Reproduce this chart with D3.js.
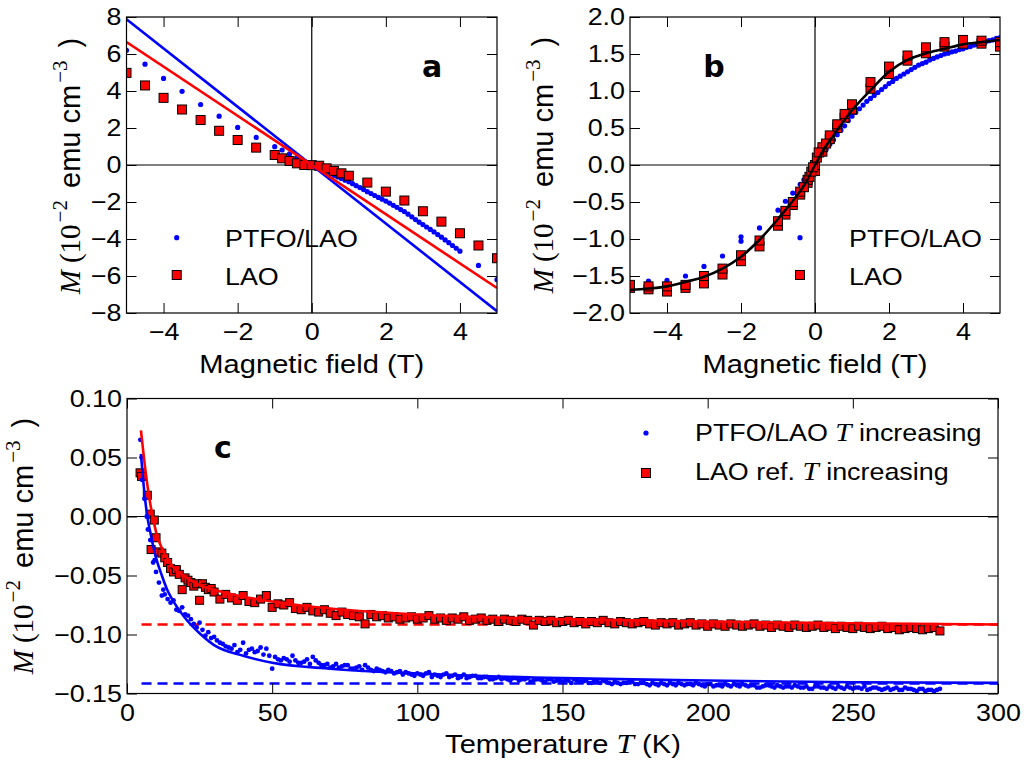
<!DOCTYPE html>
<html>
<head>
<meta charset="utf-8">
<script src="https://cdn.jsdelivr.net/npm/d3@7"></script>
<style>
  body { margin: 0; background: #fff; }
</style>
</head>
<body>
<svg id="chart" width="1029" height="767"></svg>
<script>
// ---------- data ----------
// panel a : raw M(H)
const aLaoField = [-5,-4.5,-4,-3.5,-3,-2.5,-2,-1.5,-1,-0.8,-0.6,-0.4,-0.2,0,0.2,0.4,0.6,0.8,1,1.5,2,2.5,3,3.5,4,4.5,5];
const aLaoM = [4.98,4.3,3.63,3.0,2.43,1.85,1.35,0.94,0.54,0.36,0.22,0.09,0.0,-0.01,-0.04,-0.18,-0.32,-0.45,-0.58,-0.95,-1.44,-1.92,-2.5,-3.06,-3.69,-4.35,-5.04];
const aPtfoField = [-5,-4.5,-4,-3.5,-3,-2.5,-2,-1.5,-1,-0.8,-0.6,-0.4,-0.2,
  0,0.1,0.2,0.3,0.4,0.5,0.6,0.7,0.8,0.9,1,1.1,1.2,1.3,1.4,1.5,1.6,1.7,1.8,1.9,2,
  2.1,2.2,2.3,2.4,2.5,2.6,2.7,2.8,2.9,3,3.1,3.2,3.3,3.4,3.5,3.6,3.7,3.8,3.9,4,4.5,5];
const aPtfoM = [6.2,5.45,4.68,3.98,3.27,2.64,2.03,1.49,0.99,0.81,0.6,0.4,0.2,
  -0.02,-0.1,-0.2,-0.29,-0.38,-0.47,-0.56,-0.65,-0.73,-0.82,-0.9,-1.01,-1.12,-1.22,-1.33,-1.44,-1.54,-1.65,-1.75,-1.85,-1.95,
  -2.06,-2.18,-2.29,-2.41,-2.52,-2.66,-2.8,-2.95,-3.09,-3.22,-3.35,-3.48,-3.62,-3.76,-3.9,-4.05,-4.2,-4.35,-4.5,-4.66,-5.43,-6.2];
const aFitField = [-5, 5];
const aFitPtfo = [7.88, -7.9];
const aFitLao = [6.65, -6.65];

// panel b : background-corrected M(H)
const bLaoField = [-5,-4.5,-4,-3.5,-3,-2.5,-2,-1.5,-1,-0.8,-0.6,-0.4,-0.2,0,0.2,0.4,0.6,0.8,1,1.5,2,2.5,3,3.5,4,4.5,5,
  -5,-4.5,-4,-3.5,-3,-2.5,-2,-1.5,-1,-0.8,-0.6,-0.4,-0.2,0,0.2,0.4,0.6,0.8,1,1.5,2,2.5,3,3.5,4,4.5,5,
  -0.3,-0.15,-0.1,-0.05,0.05,0.1,0.3];
const bLaoM = [-1.66,-1.68,-1.71,-1.66,-1.6,-1.48,-1.3,-1.1,-0.82,-0.67,-0.54,-0.4,-0.24,-0.08,0.18,0.35,0.5,0.64,0.75,1.03,1.23,1.41,1.51,1.6,1.64,1.64,1.6,
  -1.62,-1.64,-1.64,-1.62,-1.5,-1.4,-1.22,-1.02,-0.76,-0.62,-0.5,-0.36,-0.2,0.0,0.24,0.4,0.55,0.69,0.82,1.12,1.33,1.48,1.59,1.66,1.69,1.68,1.66,
  -0.3,-0.16,-0.09,-0.03,0.1,0.17,0.29];
const bPtfoField = [-5,-4.5,-4,-3.5,-3,-2.5,-2,-2,-1.5,-1,-0.8,-0.6,-0.4,-0.3,-0.2,-0.1,
  0,0.1,0.2,0.3,0.4,0.5,0.6,0.7,0.8,0.9,1,1.1,1.2,1.3,1.4,1.5,1.6,1.7,1.8,1.9,2,
  2.1,2.2,2.3,2.4,2.5,2.6,2.7,2.8,2.9,3,3.1,3.2,3.3,3.4,3.5,3.6,3.7,3.8,3.9,4,
  4.1,4.2,4.3,4.4,4.5,4.6,4.7,4.8,4.9,5];
const bPtfoM = [-1.69,-1.57,-1.56,-1.5,-1.37,-1.23,-1.03,-0.97,-0.85,-0.61,-0.49,-0.38,-0.26,-0.2,-0.13,-0.06,
  0.0,0.07,0.14,0.21,0.28,0.34,0.41,0.47,0.53,0.6,0.66,0.71,0.76,0.81,0.86,0.9,0.94,0.98,1.02,1.06,1.1,
  1.13,1.17,1.2,1.23,1.26,1.29,1.32,1.35,1.37,1.39,1.42,1.44,1.46,1.48,1.5,1.51,1.53,1.54,1.56,1.57,
  1.59,1.6,1.62,1.63,1.65,1.66,1.68,1.69,1.71,1.72];
const bFitField = [-5,-4.5,-4,-3.5,-3,-2.5,-2,-1.5,-1,-0.5,-0.25,0,0.25,0.5,1,1.5,2,2.5,3,3.5,4,4.5,5];
const bFitM = [-1.69,-1.67,-1.64,-1.58,-1.51,-1.4,-1.24,-1.01,-0.73,-0.42,-0.24,0,0.22,0.4,0.74,1.01,1.26,1.42,1.51,1.57,1.63,1.66,1.69];

// panel c : M(T)
const cTGrid = [30,32,34,36,38,40,42,44,46,48,
  50,52,54,56,58,60,62,64,66,68,
  70,72,74,76,78,80,82,84,86,88,
  90,92,94,96,98,100,102,104,106,108,
  110,112,114,116,118,120,122,124,126,128,
  130,132,134,136,138,140,142,144,146,148,
  150,152,154,156,158,160,162,164,166,168,
  170,172,174,176,178,180,182,184,186,188,
  190,192,194,196,198,200,202,204,206,208,
  210,212,214,216,218,220,222,224,226,228,
  230,232,234,236,238,240,242,244,246,248,
  250,252,254,256,258,260,262,264,266,268,
  270,272,274,276,278,280];
const cTGridOdd = [31,33,35,37,39,41,43,45,47,49,
  51,53,55,57,59,61,63,65,67,69,
  71,73,75,77,79,81,83,85,87,89,
  91,93,95,97,99,101,103,105,107,109,
  111,113,115,117,119,121,123,125,127,129,
  131,133,135,137,139,141,143,145,147,149,
  151,153,155,157,159,161,163,165,167,169,
  171,173,175,177,179,181,183,185,187,189,
  191,193,195,197,199,201,203,205,207,209,
  211,213,215,217,219,221,223,225,227,229,
  231,233,235,237,239,241,243,245,247,249,
  251,253,255,257,259,261,263,265,267,269,
  271,273,275,277,279];
const cLaoLowT = [4.5,5,7,8,9.4,8.3,10,11,12,13,14,15,16,17,18,19,20,21,22,23,24,25,26,27,28,29];
const cLaoLowM = [0.037,0.034,0.018,0.002,-0.003,-0.028,-0.018,-0.030,-0.031,-0.035,-0.039,-0.044,-0.047,-0.045,-0.049,-0.062,-0.052,-0.054,-0.056,-0.059,-0.057,-0.071,-0.057,-0.060,-0.062,-0.061];
const cLaoM = [-0.064,-0.070,-0.066,-0.069,-0.071,-0.067,-0.072,-0.073,-0.070,-0.067,
  -0.077,-0.074,-0.075,-0.073,-0.078,-0.079,-0.077,-0.080,-0.081,-0.079,
  -0.082,-0.084,-0.081,-0.083,-0.084,-0.085,-0.091,-0.083,-0.085,-0.084,
  -0.086,-0.085,-0.087,-0.086,-0.085,-0.087,-0.086,-0.084,-0.087,-0.086,
  -0.088,-0.086,-0.087,-0.085,-0.088,-0.087,-0.086,-0.088,-0.087,-0.089,
  -0.087,-0.088,-0.089,-0.087,-0.088,-0.092,-0.088,-0.089,-0.088,-0.090,
  -0.089,-0.088,-0.090,-0.089,-0.091,-0.089,-0.090,-0.088,-0.090,-0.091,
  -0.089,-0.090,-0.091,-0.090,-0.089,-0.091,-0.092,-0.090,-0.091,-0.090,
  -0.092,-0.091,-0.090,-0.092,-0.091,-0.093,-0.091,-0.092,-0.093,-0.091,
  -0.092,-0.093,-0.092,-0.091,-0.093,-0.092,-0.094,-0.092,-0.093,-0.094,
  -0.092,-0.093,-0.094,-0.093,-0.092,-0.094,-0.093,-0.095,-0.093,-0.094,
  -0.095,-0.093,-0.094,-0.095,-0.094,-0.093,-0.095,-0.094,-0.096,-0.095,
  -0.094,-0.095,-0.096,-0.095,-0.094,-0.097];
const cPtfoLowT = [4.6,5,5.2,6,6.8,7.2,8,9,9.5,10,11,12,12.5,13,14,15,16,17,18,19,20,21,22,23,24,25,26,27,28,29];
const cPtfoLowM = [0.065,0.05,0.031,0.015,0.0,-0.011,-0.02,-0.039,-0.037,-0.047,-0.056,-0.067,-0.062,-0.066,-0.07,-0.073,-0.071,-0.079,-0.08,-0.077,-0.083,-0.084,-0.087,-0.091,-0.094,-0.09,-0.096,-0.101,-0.098,-0.103];
const cPtfoM = [-0.102,-0.107,-0.110,-0.112,-0.115,-0.107,-0.113,-0.115,-0.111,-0.112,
  -0.129,-0.121,-0.120,-0.123,-0.122,-0.124,-0.121,-0.119,-0.124,-0.126,
  -0.128,-0.125,-0.127,-0.126,-0.129,-0.127,-0.126,-0.130,-0.129,-0.131,
  -0.130,-0.133,-0.131,-0.132,-0.134,-0.133,-0.135,-0.132,-0.134,-0.136,
  -0.133,-0.135,-0.137,-0.134,-0.136,-0.135,-0.137,-0.136,-0.138,-0.136,
  -0.137,-0.139,-0.137,-0.138,-0.137,-0.139,-0.138,-0.140,-0.138,-0.139,
  -0.140,-0.139,-0.138,-0.140,-0.139,-0.141,-0.140,-0.139,-0.141,-0.140,
  -0.142,-0.141,-0.140,-0.142,-0.141,-0.143,-0.142,-0.141,-0.143,-0.142,
  -0.141,-0.143,-0.142,-0.141,-0.143,-0.142,-0.144,-0.143,-0.142,-0.144,
  -0.143,-0.142,-0.144,-0.143,-0.145,-0.143,-0.144,-0.143,-0.145,-0.144,
  -0.143,-0.145,-0.144,-0.146,-0.144,-0.145,-0.144,-0.146,-0.145,-0.144,
  -0.146,-0.145,-0.144,-0.146,-0.145,-0.147,-0.145,-0.146,-0.147,-0.145,
  -0.146,-0.148,-0.146,-0.147,-0.148,-0.146];
const cPtfoOddM = [-0.105,-0.108,-0.111,-0.109,-0.113,-0.116,-0.112,-0.114,-0.117,-0.118,
  -0.119,-0.122,-0.121,-0.118,-0.124,-0.123,-0.125,-0.122,-0.126,-0.125,
  -0.127,-0.128,-0.126,-0.129,-0.128,-0.130,-0.128,-0.131,-0.130,-0.132,
  -0.131,-0.132,-0.134,-0.133,-0.135,-0.134,-0.133,-0.136,-0.135,-0.134,
  -0.136,-0.134,-0.136,-0.137,-0.135,-0.137,-0.136,-0.138,-0.137,-0.138,
  -0.138,-0.137,-0.139,-0.138,-0.140,-0.138,-0.139,-0.138,-0.140,-0.139,
  -0.139,-0.141,-0.139,-0.140,-0.141,-0.139,-0.141,-0.140,-0.142,-0.141,
  -0.141,-0.140,-0.142,-0.141,-0.142,-0.141,-0.143,-0.142,-0.141,-0.143,
  -0.142,-0.142,-0.143,-0.142,-0.144,-0.142,-0.143,-0.144,-0.143,-0.142,
  -0.144,-0.143,-0.143,-0.145,-0.144,-0.143,-0.145,-0.144,-0.144,-0.145,
  -0.144,-0.145,-0.146,-0.144,-0.145,-0.146,-0.145,-0.144,-0.146,-0.145,
  -0.145,-0.146,-0.147,-0.145,-0.146,-0.146,-0.147,-0.145,-0.147,-0.146,
  -0.147,-0.146,-0.148,-0.147,-0.147];
const cFitT = [4.8,6,7,8,9,10,12,14,16,20,25,30,40,50,70,100,150,200,250,300];
const cFitLao = [0.073,0.046,0.027,0.011,-0.002,-0.013,-0.027,-0.036,-0.043,-0.051,-0.058,-0.062,-0.068,-0.072,-0.078,-0.083,-0.087,-0.089,-0.0905,-0.0915];
const cFitPtfo = [0.053,0.02,0.0,-0.013,-0.025,-0.035,-0.05,-0.063,-0.072,-0.086,-0.099,-0.109,-0.118,-0.124,-0.129,-0.133,-0.137,-0.139,-0.1405,-0.141];
const cBaseT = [5, 300];
const cBaseLao = -0.0915;
const cBasePtfo = -0.1415;

// ticks
const fieldTicks = [-4, -2, 0, 2, 4];
const aMTicks = [-8, -6, -4, -2, 0, 2, 4, 6, 8];
const bMTicks = [-2, -1.5, -1, -0.5, 0, 0.5, 1, 1.5, 2];
const tempTicks = [0, 50, 100, 150, 200, 250, 300];
const cMTicks = [-0.15, -0.1, -0.05, 0, 0.05, 0.1];

// ---------- drawing ----------
const SANS = "'Liberation Sans', Arial, sans-serif";
const SERIF = "'Liberation Serif', 'DejaVu Serif', serif";
const SX = 1.12;   // glyphs in the source are a little wider than Arial
const BLUE = "#0000ff", RED = "#ff0000";
const svg = d3.select("#chart");
let clipCount = 0;

function stretch(sel) {
  sel.each(function () {
    const t = d3.select(this);
    const x = +t.attr("x") || 0, y = +t.attr("y") || 0;
    t.attr("x", null).attr("y", null)
      .attr("transform", `translate(${x},${y}) scale(${SX},1)`);
  });
}

function panel(box, xDom, yDom, xTicks, yTicks, xFmt, yFmt) {
  const x = d3.scaleLinear().domain(xDom).range([box.x0, box.x1]);
  const y = d3.scaleLinear().domain(yDom).range([box.y1, box.y0]);
  const id = "clip" + (clipCount++);
  svg.append("clipPath").attr("id", id).append("rect")
    .attr("x", box.x0).attr("y", box.y0)
    .attr("width", box.x1 - box.x0).attr("height", box.y1 - box.y0);
  const plot = svg.append("g").attr("clip-path", `url(#${id})`);

  const axes = svg.append("g");
  const style = g => {
    g.attr("font-size", 24).attr("font-family", SANS);
    g.select(".domain").remove();
    g.selectAll(".tick line").attr("stroke", "#000");
  };
  axes.append("g").attr("transform", `translate(0,${box.y1})`)
    .call(d3.axisBottom(x).tickValues(xTicks).tickFormat(xFmt).tickSizeInner(-10).tickSizeOuter(0).tickPadding(10))
    .call(style).call(g => stretch(g.selectAll("text")));
  axes.append("g").attr("transform", `translate(0,${box.y0})`)
    .call(d3.axisTop(x).tickValues(xTicks).tickFormat("").tickSizeInner(-10).tickSizeOuter(0))
    .call(style);
  axes.append("g").attr("transform", `translate(${box.x0},0)`)
    .call(d3.axisLeft(y).tickValues(yTicks).tickFormat(yFmt).tickSizeInner(-10).tickSizeOuter(0).tickPadding(5))
    .call(style).call(g => stretch(g.selectAll("text")));
  axes.append("g").attr("transform", `translate(${box.x1},0)`)
    .call(d3.axisRight(y).tickValues(yTicks).tickFormat("").tickSizeInner(-10).tickSizeOuter(0))
    .call(style);
  axes.append("rect")
    .attr("x", box.x0).attr("y", box.y0)
    .attr("width", box.x1 - box.x0).attr("height", box.y1 - box.y0)
    .attr("fill", "none").attr("stroke", "#000").attr("stroke-width", 1.2);
  return { x, y, plot };
}

function dots(p, xs, ys, r) {
  p.plot.append("g").selectAll("circle").data(d3.zip(xs, ys)).join("circle")
    .attr("cx", d => p.x(d[0])).attr("cy", d => p.y(d[1]))
    .attr("r", r).attr("fill", BLUE);
}
function squares(p, xs, ys, s) {
  p.plot.append("g").selectAll("rect").data(d3.zip(xs, ys)).join("rect")
    .attr("x", d => p.x(d[0]) - s / 2).attr("y", d => p.y(d[1]) - s / 2)
    .attr("width", s).attr("height", s)
    .attr("fill", RED).attr("stroke", "#000").attr("stroke-width", 1);
}
function curve(p, xs, ys, color, dash, smooth) {
  const line = d3.line().x(d => p.x(d[0])).y(d => p.y(d[1]));
  if (smooth) line.curve(d3.curveMonotoneX);
  p.plot.append("path").datum(d3.zip(xs, ys)).attr("d", line)
    .attr("fill", "none").attr("stroke", color).attr("stroke-width", 2.6)
    .attr("stroke-dasharray", dash || null);
}
function zeroLines(p, vertical) {
  const [x0, x1] = p.x.range(), [y1, y0] = p.y.range();
  p.plot.append("line").attr("x1", x0).attr("x2", x1).attr("y1", p.y(0)).attr("y2", p.y(0))
    .attr("stroke", "#000").attr("stroke-width", 1.2);
  if (vertical)
    p.plot.append("line").attr("x1", p.x(0)).attr("x2", p.x(0)).attr("y1", y0).attr("y2", y1)
      .attr("stroke", "#000").attr("stroke-width", 1.2);
}

function txt(x, y, size, anchor) {
  return svg.append("text")
    .attr("transform", `translate(${x},${y}) scale(${SX},1)`)
    .attr("font-size", size).attr("font-family", SANS).attr("fill", "#000")
    .attr("text-anchor", anchor || "start");
}
function yLabel(x, y) {
  const t = svg.append("text")
    .attr("transform", `translate(${x},${y}) rotate(-90)`)
    .attr("font-size", 29).attr("font-family", SANS).attr("text-anchor", "middle");
  t.append("tspan").attr("font-family", SERIF).attr("font-style", "italic").text("M");
  t.append("tspan").attr("font-family", SERIF).attr("dx", 7).text("(10");
  t.append("tspan").attr("font-family", SERIF).attr("font-size", 21).attr("dx", 2).attr("dy", -13).text("\u22122");
  t.append("tspan").attr("dy", 13).attr("dx", 4).text(" emu cm");
  t.append("tspan").attr("font-family", SERIF).attr("font-size", 21).attr("dx", 2).attr("dy", -13).text("\u22123");
  t.append("tspan").attr("dy", 13).attr("dx", 5).text(" )");
}
function legendRow(cx, cy, kind, tx, ty, parts) {
  if (kind === "dot")
    svg.append("circle").attr("cx", cx).attr("cy", cy).attr("r", 2.6).attr("fill", BLUE);
  else
    svg.append("rect").attr("x", cx - 4.5).attr("y", cy - 4.5).attr("width", 9).attr("height", 9)
      .attr("fill", RED).attr("stroke", "#000");
  const t = txt(tx, ty, 24);
  parts.forEach(s => {
    const span = t.append("tspan").text(s.text);
    if (s.math) span.attr("font-family", SERIF).attr("font-style", "italic").attr("font-size", 26);
  });
}

// panel a
const pa = panel({ x0: 126.5, x1: 497, y0: 17, y1: 313 }, [-5, 5], [-8, 8],
  fieldTicks, aMTicks, d3.format("d"), d3.format("d"));
zeroLines(pa, true);
dots(pa, aPtfoField, aPtfoM, 2.6);
squares(pa, aLaoField, aLaoM, 9);
curve(pa, aFitField, aFitPtfo, BLUE);
curve(pa, aFitField, aFitLao, RED);

// panel b
const pb = panel({ x0: 630, x1: 1000, y0: 17, y1: 313 }, [-5, 5], [-2, 2],
  fieldTicks, bMTicks, d3.format("d"), d3.format(".1f"));
zeroLines(pb, true);
dots(pb, bPtfoField, bPtfoM, 2.6);
squares(pb, bLaoField, bLaoM, 9);
curve(pb, bFitField, bFitM, "#000", null, true);

// panel c
const pc = panel({ x0: 127, x1: 998, y0: 398.5, y1: 693.5 }, [0, 300], [-0.15, 0.1],
  tempTicks, cMTicks, d3.format("d"), d3.format(".2f"));
zeroLines(pc, false);
curve(pc, cBaseT, cBaseT.map(() => cBaseLao), RED, "10,6");
curve(pc, cBaseT, cBaseT.map(() => cBasePtfo), BLUE, "10,6");
squares(pc, cLaoLowT.concat(cTGrid), cLaoLowM.concat(cLaoM), 8);
dots(pc, cPtfoLowT.concat(cTGrid, cTGridOdd), cPtfoLowM.concat(cPtfoM, cPtfoOddM), 2.4);
curve(pc, cFitT, cFitPtfo, BLUE, null, true);
curve(pc, cFitT, cFitLao, RED, null, true);

// axis titles
txt(311.75, 373, 26, "middle").text("Magnetic field (T)");
txt(815, 373, 26, "middle").text("Magnetic field (T)");
const tl = txt(563, 753, 26, "middle");
tl.append("tspan").text("Temperature ");
tl.append("tspan").attr("font-family", SERIF).attr("font-style", "italic").attr("font-size", 28).text("T");
tl.append("tspan").text(" (K)");
yLabel(80, 166);
yLabel(553, 165);
yLabel(33, 546);

// panel letters
[["a", 432, 77], ["b", 714, 77], ["c", 223, 458]].forEach(([s, x, y]) =>
  svg.append("text").attr("x", x).attr("y", y).attr("text-anchor", "middle")
    .attr("font-family", "'DejaVu Sans', sans-serif").attr("font-weight", "bold")
    .attr("font-size", 30).text(s));

// legends
legendRow(176.7, 237.7, "dot", 225, 247, [{ text: "PTFO/LAO" }]);
legendRow(176.7, 275, "square", 225, 285, [{ text: "LAO" }]);
legendRow(800, 237.7, "dot", 849, 247, [{ text: "PTFO/LAO" }]);
legendRow(800, 275, "square", 849, 285, [{ text: "LAO" }]);
legendRow(646, 433, "dot", 695, 441, [{ text: "PTFO/LAO " }, { text: "T", math: true }, { text: " increasing" }]);
legendRow(646, 473, "square", 695, 480, [{ text: "LAO ref. " }, { text: "T", math: true }, { text: " increasing" }]);
</script>
</body>
</html>
